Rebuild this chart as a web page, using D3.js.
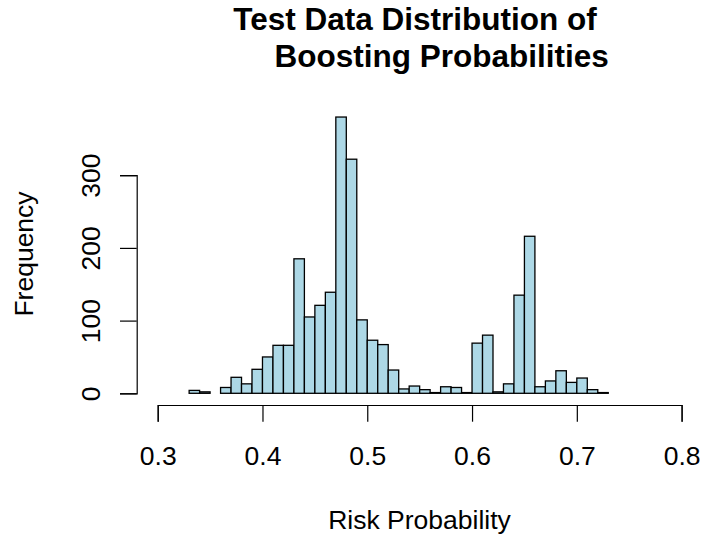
<!DOCTYPE html>
<html>
<head>
<meta charset="utf-8">
<script src="https://cdn.jsdelivr.net/npm/d3@7"></script>
<style>
  body { margin: 0; background: #fff; }
  text { font-family: "Liberation Sans", Arial, sans-serif; fill: #000; }
</style>
</head>
<body>
<div id="chart-container"></div>
<script>
// Histogram bins (left edges) and counts
const binStarts = [0.33, 0.34, 0.35, 0.36, 0.37, 0.38, 0.39, 0.40, 0.41, 0.42,
                   0.43, 0.44, 0.45, 0.46, 0.47, 0.48, 0.49, 0.50, 0.51, 0.52,
                   0.53, 0.54, 0.55, 0.56, 0.57, 0.58, 0.59, 0.60, 0.61, 0.62,
                   0.63, 0.64, 0.65, 0.66, 0.67, 0.68, 0.69, 0.70, 0.71, 0.72];
const counts = [4, 2, 0, 8, 22, 13, 33, 50, 66, 66,
                185, 105, 121, 139, 380, 322, 101, 73, 67, 32,
                6, 10, 5, 1, 9, 8, 1, 69, 80, 2,
                13, 135, 216, 9, 17, 31, 15, 21, 5, 1];
const binWidth = 0.01;
const xTicks = [0.3, 0.4, 0.5, 0.6, 0.7, 0.8];
const yTicks = [0, 100, 200, 300];

const W = 701, H = 537;

const svg = d3.select("#chart-container")
    .append("svg")
    .attr("width", W)
    .attr("height", H);

// Scales
const x = d3.scaleLinear()
    .domain([0.3, 0.8])
    .range([157.7, 681.6]);

const y = d3.scaleLinear()
    .domain([0, 300])
    .range([393.3, 175.2]);

const data = binStarts.map((b, i) => ({ x0: b, x1: b + binWidth, n: counts[i] }));

// Bars
svg.append("g")
    .selectAll("rect")
    .data(data)
    .enter().append("rect")
    .attr("x", d => x(d.x0))
    .attr("y", d => y(d.n))
    .attr("width", d => x(d.x1) - x(d.x0))
    .attr("height", d => y(0) - y(d.n))
    .attr("fill", "#add8e6")
    .attr("stroke", "#000")
    .attr("stroke-width", 1.3);

// X axis
const xAxis = svg.append("g")
    .attr("transform", "translate(0,405)")
    .call(d3.axisBottom(x).tickValues(xTicks).tickSize(16.7).tickFormat(d3.format(".1f")));

xAxis.selectAll("text")
    .attr("y", 60)
    .attr("dy", null)
    .style("font-size", "26.5px");

// Y axis
const yAxis = svg.append("g")
    .attr("transform", "translate(136.7,0)")
    .call(d3.axisLeft(y).tickValues(yTicks).tickSize(16.7));

yAxis.selectAll("text")
    .attr("x", 0)
    .attr("dy", null)
    .attr("y", -36.7)
    .attr("transform", "rotate(-90)")
    .attr("text-anchor", "middle")
    .style("font-size", "26.5px");

svg.selectAll(".domain, .tick line")
    .attr("stroke", "#000")
    .attr("stroke-width", 1.2);

// Axis titles
svg.append("text")
    .attr("x", 419.5)
    .attr("y", 529)
    .attr("text-anchor", "middle")
    .style("font-size", "26.5px")
    .text("Risk Probability");

svg.append("text")
    .attr("transform", "translate(33,254) rotate(-90)")
    .attr("text-anchor", "middle")
    .style("font-size", "26.5px")
    .text("Frequency");

// Title (two lines)
svg.append("text")
    .attr("x", 415)
    .attr("y", 30)
    .attr("text-anchor", "middle")
    .style("font-size", "31.5px")
    .style("font-weight", "bold")
    .text("Test Data Distribution of");

svg.append("text")
    .attr("x", 441.7)
    .attr("y", 67)
    .attr("text-anchor", "middle")
    .style("font-size", "31.5px")
    .style("font-weight", "bold")
    .text("Boosting Probabilities");
</script>
</body>
</html>
